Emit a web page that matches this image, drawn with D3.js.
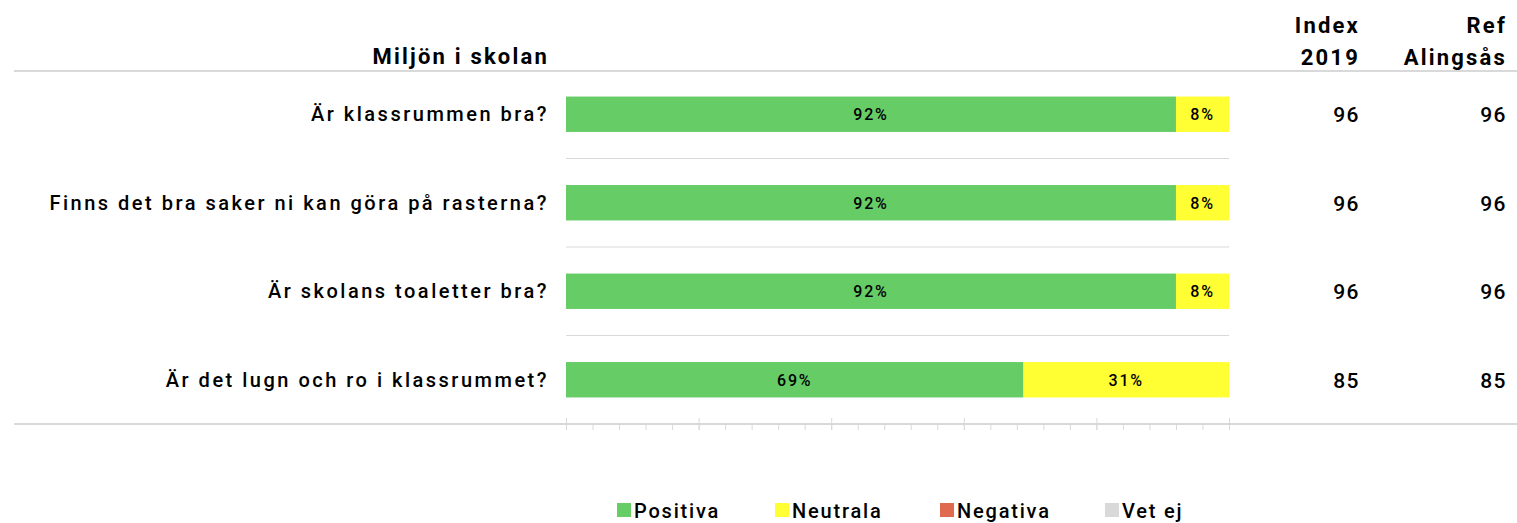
<!DOCTYPE html>
<html>
<head>
<meta charset="utf-8">
<script src="https://cdn.jsdelivr.net/npm/d3@7"></script>
<style>
  body { margin: 0; background: #fff; }
  svg text { font-family: Roboto, "Liberation Sans", sans-serif; fill: #000; }
</style>
</head>
<body>
<svg id="chart"></svg>
<script>
// data
const questions = ["Är klassrummen bra?", "Finns det bra saker ni kan göra på rasterna?", "Är skolans toaletter bra?", "Är det lugn och ro i klassrummet?"]
const positiva = [92, 92, 92, 69]
const neutrala = [8, 8, 8, 31]
const negativa = [0, 0, 0, 0]
const vetEj = [0, 0, 0, 0]
const index2019 = [96, 96, 96, 85]
const refAlingsas = [96, 96, 96, 85]
const seriesNames = ["Positiva", "Neutrala", "Negativa", "Vet ej"]
const seriesColors = ["#66CC66", "#FFFF33", "#E06A50", "#D9D9D9"]

let width = 1517
let height = 523

let svg = d3.select("#chart").attr("width", width).attr("height", height)

let xScale = d3.scaleLinear().domain([0, 100]).range([566, 1229])
let yScale = d3.scaleBand().domain(questions).range([70, 424]).paddingInner(0.6).paddingOuter(0.3)

// rows of data for stacking
let rows = questions.map((q, i) => ({
    q: q, Positiva: positiva[i], Neutrala: neutrala[i], Negativa: negativa[i], "Vet ej": vetEj[i]
}))
let stacked = d3.stack().keys(seriesNames)(rows)

let headStyle = (sel) => sel.style("font-size", "22px").style("font-weight", "bold").style("letter-spacing", "2.2px")

// header + lines
svg.append("text").attr("x", 549).attr("y", 64).attr("text-anchor", "end")
    .call(headStyle).text("Miljön i skolan")

svg.append("text").attr("x", 1360).attr("y", 33).attr("text-anchor", "end").call(headStyle).text("Index")
svg.append("text").attr("x", 1360).attr("y", 65).attr("text-anchor", "end").call(headStyle).text("2019")
svg.append("text").attr("x", 1507).attr("y", 33).attr("text-anchor", "end").call(headStyle).text("Ref")
svg.append("text").attr("x", 1507).attr("y", 65).attr("text-anchor", "end").call(headStyle).text("Alingsås")

svg.append("line").attr("x1", 14).attr("x2", width).attr("y1", 71).attr("y2", 71)
    .attr("stroke", "#d9d9d9").attr("stroke-width", 2)

// separators between rows
let step = yScale.step()
svg.selectAll(".sep")
    .data(questions.slice(1))
    .enter()
    .append("line")
    .attr("class", "sep")
    .attr("x1", xScale(0)).attr("x2", xScale(100))
    .attr("y1", (d) => yScale(d) - (step - yScale.bandwidth()) / 2)
    .attr("y2", (d) => yScale(d) - (step - yScale.bandwidth()) / 2)
    .attr("stroke", "#d9d9d9").attr("stroke-width", 1)

// bars
let groups = svg.selectAll(".series")
    .data(stacked)
    .enter()
    .append("g")
    .attr("fill", (d, i) => seriesColors[i])

groups.selectAll("rect")
    .data((d) => d)
    .enter()
    .append("rect")
    .attr("x", (d) => xScale(d[0]))
    .attr("width", (d) => xScale(d[1]) - xScale(d[0]))
    .attr("y", (d) => yScale(d.data.q))
    .attr("height", yScale.bandwidth())

// bar labels
stacked.forEach((s) => {
    svg.selectAll(null)
        .data(s.filter((d) => d[1] - d[0] > 0))
        .enter()
        .append("text")
        .attr("x", (d) => (xScale(d[0]) + xScale(d[1])) / 2)
        .attr("y", (d) => yScale(d.data.q) + yScale.bandwidth() / 2 + 6)
        .attr("text-anchor", "middle")
        .style("font-size", "16px").style("font-weight", "500").style("letter-spacing", "1.8px")
        .text((d) => (d[1] - d[0]) + "%")
})

// question labels
svg.selectAll(".qlabel")
    .data(questions)
    .enter()
    .append("text")
    .attr("x", 549)
    .attr("y", (d) => yScale(d) + yScale.bandwidth() / 2 + 7)
    .attr("text-anchor", "end")
    .style("font-size", "20px").style("font-weight", "500").style("letter-spacing", "2.5px")
    .text((d) => d)

// index + ref columns
svg.selectAll(".idx")
    .data(questions)
    .enter()
    .append("text")
    .attr("x", 1360)
    .attr("y", (d) => yScale(d) + yScale.bandwidth() / 2 + 8)
    .attr("text-anchor", "end")
    .style("font-size", "21px").style("font-weight", "500").style("letter-spacing", "1.5px")
    .text((d, i) => index2019[i])

svg.selectAll(".ref")
    .data(questions)
    .enter()
    .append("text")
    .attr("x", 1507)
    .attr("y", (d) => yScale(d) + yScale.bandwidth() / 2 + 8)
    .attr("text-anchor", "end")
    .style("font-size", "21px").style("font-weight", "500").style("letter-spacing", "1.5px")
    .text((d, i) => refAlingsas[i])

// bottom axis line
svg.append("line").attr("x1", 14).attr("x2", width).attr("y1", 424).attr("y2", 424)
    .attr("stroke", "#d9d9d9").attr("stroke-width", 2)

let minorAxis = d3.axisBottom(xScale).tickValues(d3.range(0, 101, 4)).tickSize(6).tickFormat("")
svg.append("g").attr("transform", "translate(0,424)").call(minorAxis)
let majorAxis = d3.axisBottom(xScale).tickValues(d3.range(0, 101, 20)).tickSize(12).tickFormat("")
svg.append("g").attr("transform", "translate(0,418)").call(majorAxis)
svg.selectAll(".domain").remove()
svg.selectAll(".tick line").attr("stroke", "#d9d9d9")

// legend
let legendX = [617, 775, 940, 1105]
let legend = svg.selectAll(".leg")
    .data(seriesNames)
    .enter()
    .append("g")
    .attr("transform", (d, i) => "translate(" + legendX[i] + ",503)")
legend.append("rect").attr("width", 14).attr("height", 14).attr("fill", (d, i) => seriesColors[i])
legend.append("text").attr("x", 17).attr("y", 15)
    .style("font-size", "20px").style("font-weight", "500").style("letter-spacing", "1.8px")
    .text((d) => d)
</script>
</body>
</html>
